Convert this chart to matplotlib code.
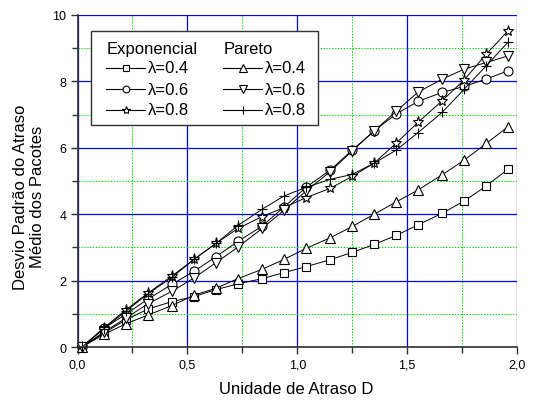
import matplotlib
matplotlib.use("Agg")
import matplotlib.pyplot as plt
from matplotlib.patches import Rectangle
from matplotlib.ticker import MultipleLocator, FuncFormatter

plt.rcParams['font.family'] = ['Liberation Sans', 'DejaVu Sans']

# Delay unit D
d_unit = [0.02, 0.12, 0.22, 0.32, 0.43, 0.53, 0.63, 0.73, 0.84, 0.94,
          1.04, 1.15, 1.25, 1.35, 1.45, 1.55, 1.66, 1.76, 1.86, 1.96]

# Standard deviation of mean packet delay
exp_04 = [0.0, 0.42, 0.82, 1.14, 1.37, 1.52, 1.73, 1.90, 2.06, 2.24,
          2.42, 2.63, 2.85, 3.09, 3.36, 3.68, 4.03, 4.40, 4.85, 5.36]
exp_06 = [0.0, 0.56, 0.99, 1.44, 1.89, 2.28, 2.72, 3.18, 3.64, 4.22,
          4.81, 5.33, 5.93, 6.51, 7.02, 7.40, 7.67, 7.85, 8.07, 8.32]
exp_08 = [0.0, 0.58, 1.12, 1.62, 2.14, 2.64, 3.12, 3.57, 3.93, 4.20,
          4.50, 4.78, 5.14, 5.54, 6.14, 6.77, 7.42, 8.05, 8.82, 9.53]
par_04 = [0.0, 0.38, 0.70, 0.96, 1.25, 1.56, 1.77, 2.06, 2.34, 2.64,
          2.97, 3.29, 3.63, 4.00, 4.37, 4.73, 5.19, 5.63, 6.13, 6.64]
par_06 = [0.0, 0.45, 0.87, 1.30, 1.68, 2.08, 2.54, 3.01, 3.57, 4.12,
          4.70, 5.28, 5.91, 6.51, 7.10, 7.68, 8.07, 8.37, 8.57, 8.77]
par_08 = [0.0, 0.55, 1.08, 1.60, 2.10, 2.64, 3.12, 3.66, 4.15, 4.55,
          4.81, 5.05, 5.20, 5.54, 5.93, 6.46, 7.07, 7.77, 8.47, 9.19]

lambda_labels = ["λ=0.4", "λ=0.6", "λ=0.8"]
exp_series = [(exp_04, 's'), (exp_06, 'o'), (exp_08, '*')]
par_series = [(par_04, '^'), (par_06, 'v'), (par_08, '+')]

fig = plt.figure(figsize=(5.35, 4.02), dpi=100)
ax = fig.add_axes([0.1449, 0.1343, 0.8215, 0.8259])

msize = {'s': 5.5, 'o': 6.5, '*': 8, '^': 7, 'v': 7, '+': 7}
for vals, mk in exp_series + par_series:
    ax.plot(d_unit, vals, color='black', lw=0.7, marker=mk, ms=msize[mk],
            mfc='white', mec='black', mew=0.8, zorder=3, clip_on=False)

ax.set_xlim(0, 2.0)
ax.set_ylim(0, 10)
ax.xaxis.set_major_locator(MultipleLocator(0.5))
ax.xaxis.set_minor_locator(MultipleLocator(0.25))
ax.yaxis.set_major_locator(MultipleLocator(2))
ax.yaxis.set_minor_locator(MultipleLocator(1))
ax.xaxis.set_major_formatter(FuncFormatter(lambda v, p: f"{v:.1f}".replace('.', ',')))
ax.yaxis.set_major_formatter(FuncFormatter(lambda v, p: f"{v:.0f}"))

ax.grid(which='major', color='#0000ff', lw=0.9, ls='-', zorder=1)
ax.grid(which='minor', color='#00e000', lw=0.7, ls=(0, (1.5, 1.5)), zorder=1)
ax.set_axisbelow(True)

for side in ('top', 'right'):
    ax.spines[side].set_visible(False)
for side in ('left', 'bottom'):
    ax.spines[side].set_color('#303030')
    ax.spines[side].set_linewidth(1.2)
    ax.spines[side].set_zorder(4)

ax.tick_params(which='major', direction='out', length=5, width=1, color='#303030',
               labelsize=9, pad=3)
ax.tick_params(which='minor', direction='out', length=4, width=1, color='#303030')

# Axis titles
fig.text(0.5533, 0.030, "Unidade de Atraso D", fontsize=12,
         ha='center', va='center')
fig.text(0.054, 0.51, "Desvio Padrão do Atraso\nMédio dos Pacotes",
         fontsize=12, rotation=90, ha='center', va='center',
         multialignment='center', linespacing=1.15)

# Legend box with two titled columns
tr = ax.transAxes
ax.add_patch(Rectangle((0.0307, 0.668), 0.5173, 0.2847, transform=tr,
                       facecolor='white', edgecolor='#303030', lw=1.0,
                       zorder=10, clip_on=False))
ax.text(0.066, 0.900, "Exponencial", transform=tr, fontsize=12,
        va='center', ha='left', zorder=11)
ax.text(0.3333, 0.900, "Pareto", transform=tr, fontsize=12,
        va='center', ha='left', zorder=11)
row_y = [0.8404, 0.7771, 0.7148]
columns = [(exp_series, 0.0648, 0.1536, 0.1597),
           (par_series, 0.3317, 0.4191, 0.4266)]
for series, x0, x1, xt in columns:
    for (vals, mk), lab, yy in zip(series, lambda_labels, row_y):
        ax.plot([x0, x1], [yy, yy], transform=tr, color='black', lw=0.8,
                zorder=11, clip_on=False)
        ax.plot([(x0 + x1) / 2], [yy], transform=tr, marker=mk,
                ms=msize[mk] * 0.75, mfc='white', mec='black', mew=0.8,
                color='black', zorder=12, clip_on=False)
        ax.text(xt, yy, lab, transform=tr, fontsize=12, va='center',
                ha='left', zorder=11)

fig.savefig("out.png", dpi=100)
